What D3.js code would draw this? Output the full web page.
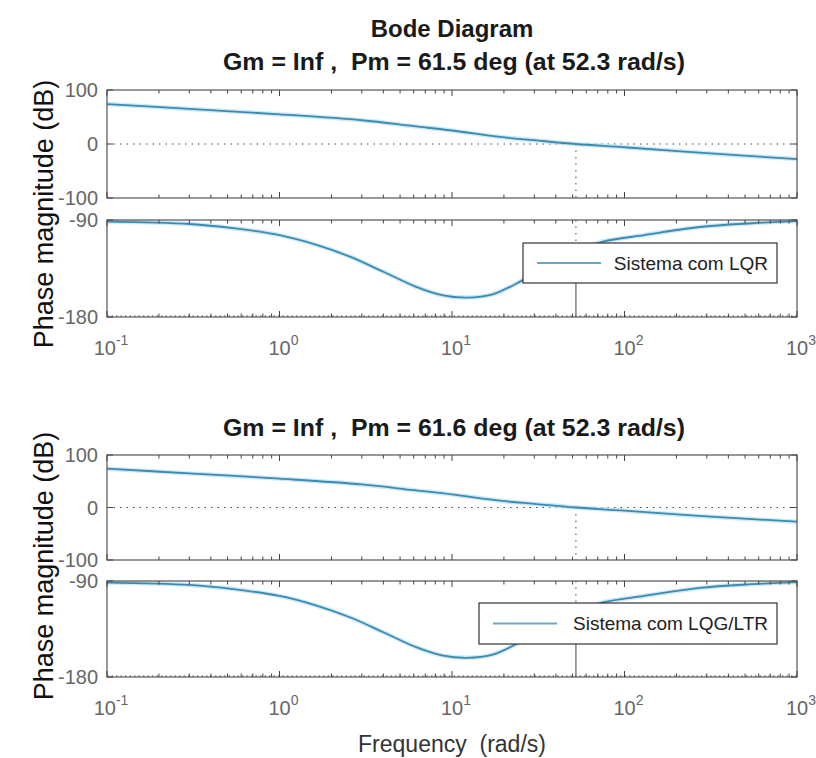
<!DOCTYPE html>
<html>
<head>
<meta charset="utf-8">
<script src="https://cdn.jsdelivr.net/npm/d3@7"></script>
<style>
    body { margin: 0; background: #fff; }
    svg { display: block; font-family: "Liberation Sans", Arial, sans-serif; }
</style>
</head>
<body>
<div id="chart"></div>
<script>
// Values
const freqMag = [0.1, 0.3, 1, 3, 6, 10, 19, 30, 52.3, 100, 300, 1000];
const magLQR = [74, 65, 55, 44, 33, 25, 13, 7, 0, -6, -17, -28];
const magLQG = [74, 65, 55, 44, 33, 25, 13, 7, 0, -6, -17, -27];

const freqPhase = [0.1, 0.3, 0.54, 1, 1.64, 2.56, 4, 6.2, 8.9, 12.2, 17.2, 25.6, 52.3, 75, 130, 272, 550, 1000];
const phaseLQR = [-91.5, -93.7, -97.6, -104, -113, -124, -138, -152, -160, -162, -159, -146, -118.5, -110, -104, -96.5, -93, -91];
const phaseLQG = [-91.5, -93.7, -97.6, -104, -113, -124, -138, -152, -160, -162, -159, -146, -118.4, -110, -104, -96.5, -93, -91];

const xTickExps = [-1, 0, 1, 2, 3];
const magTicks = [100, 0, -100];
const phaseTicks = [-90, -180];

const pmTitles = ["Gm = Inf ,  Pm = 61.5 deg (at 52.3 rad/s)", "Gm = Inf ,  Pm = 61.6 deg (at 52.3 rad/s)"];
const legendLabels = ["Sistema com LQR", "Sistema com LQG/LTR"];
const crossFreqs = [52.3, 52.3];
const phaseMargins = [61.5, 61.6];

// Page layout
const width = 816, height = 758;
const left = 107, right = 797;
const lineColor = "#3f89ae";

const blocks = [
    { mag: magLQR, phase: phaseLQR, titleY: 70, magTop: 90, magBot: 198, phTop: 220, phBot: 317,
      tickY: 355, ylabelY: 214, legend: [523, 777, 243, 283], label: legendLabels[0] },
    { mag: magLQG, phase: phaseLQG, titleY: 436, magTop: 455, magBot: 560, phTop: 581, phBot: 677,
      tickY: 715, ylabelY: 566, legend: [479, 777, 603, 644], label: legendLabels[1] }
];

const svg = d3.select("#chart")
    .append("svg")
    .attr("width", width)
    .attr("height", height);

const x = d3.scaleLog().domain([0.1, 1000]).range([left, right]);

// Minor tick positions (2..9 in every decade)
const minorTicks = [];
for (let e = -1; e < 3; e++) {
    for (let m = 2; m <= 9; m++) minorTicks.push(m * Math.pow(10, e));
}

svg.append("text")
    .attr("x", (left + right) / 2)
    .attr("y", 37)
    .attr("text-anchor", "middle")
    .style("font-size", "24px")
    .style("font-weight", "bold")
    .style("fill", "#1a1a1a")
    .text("Bode Diagram");

function drawBox(g, y, ticks, top, bot) {
    g.append("rect")
        .attr("x", left).attr("y", top)
        .attr("width", right - left).attr("height", bot - top)
        .attr("fill", "none")
        .attr("stroke", "#555")
        .attr("stroke-width", 1.2);

    // x ticks, inside, top and bottom
    xTickExps.forEach(e => {
        const px = x(Math.pow(10, e));
        g.append("line").attr("x1", px).attr("x2", px).attr("y1", top).attr("y2", top + 6);
        g.append("line").attr("x1", px).attr("x2", px).attr("y1", bot).attr("y2", bot - 6);
    });
    minorTicks.forEach(v => {
        const px = x(v);
        g.append("line").attr("x1", px).attr("x2", px).attr("y1", top).attr("y2", top + 3.5);
        g.append("line").attr("x1", px).attr("x2", px).attr("y1", bot).attr("y2", bot - 3.5);
    });
    // y ticks, inside, left and right
    ticks.forEach(t => {
        g.append("line").attr("x1", left).attr("x2", left + 6).attr("y1", y(t)).attr("y2", y(t));
        g.append("line").attr("x1", right).attr("x2", right - 6).attr("y1", y(t)).attr("y2", y(t));
        g.append("text")
            .attr("x", left - 9)
            .attr("y", y(t))
            .attr("dy", "0.35em")
            .attr("text-anchor", "end")
            .style("font-size", "20px")
            .style("fill", "#666")
            .text(t);
    });
    g.selectAll("line").attr("stroke", "#444").attr("stroke-width", 1);
}

function drawCurve(g, freqs, vals, y) {
    const line = d3.line()
        .x((d, i) => x(freqs[i]))
        .y(d => y(d))
        .curve(d3.curveCatmullRom.alpha(0.5));
    g.append("path")
        .datum(vals)
        .attr("d", line)
        .attr("fill", "none")
        .attr("stroke", "#b6e0f3")
        .attr("stroke-width", 4.5)
        .attr("stroke-opacity", 0.7);
    g.append("path")
        .datum(vals)
        .attr("d", line)
        .attr("fill", "none")
        .attr("stroke", lineColor)
        .attr("stroke-width", 1.8);
}

blocks.forEach((b, bi) => {
    const g = svg.append("g");
    const yMag = d3.scaleLinear().domain([-100, 100]).range([b.magBot, b.magTop]);
    const yPh = d3.scaleLinear().domain([-180, -90]).range([b.phBot, b.phTop]);
    const xc = x(crossFreqs[bi]);

    // Title with margins
    g.append("text")
        .attr("x", (left + right) / 2 + 2)
        .attr("y", b.titleY)
        .attr("text-anchor", "middle")
        .attr("textLength", 462)
        .attr("lengthAdjust", "spacingAndGlyphs")
        .style("white-space", "pre")
        .style("font-size", "24px")
        .style("font-weight", "bold")
        .style("fill", "#1a1a1a")
        .text(pmTitles[bi]);

    // Magnitude panel
    const gm = g.append("g");
    gm.append("line")
        .attr("x1", left).attr("x2", right)
        .attr("y1", yMag(0)).attr("y2", yMag(0))
        .attr("stroke", "#222").attr("stroke-width", 1.3)
        .attr("stroke-dasharray", "1.5,5");
    gm.append("line")
        .attr("x1", xc).attr("x2", xc)
        .attr("y1", yMag(0)).attr("y2", b.magBot)
        .attr("stroke", "#222").attr("stroke-width", 1.3)
        .attr("stroke-dasharray", "1.5,5");
    drawCurve(gm, freqMag, b.mag, yMag);
    drawBox(gm, yMag, magTicks, b.magTop, b.magBot);

    // Phase panel
    const gp = g.append("g");
    const phAtCross = -180 + phaseMargins[bi];
    gp.append("line")
        .attr("x1", left).attr("x2", right)
        .attr("y1", yPh(-180) - 1).attr("y2", yPh(-180) - 1)
        .attr("stroke", "#222").attr("stroke-width", 1.3)
        .attr("stroke-dasharray", "1.5,3");
    gp.append("line")
        .attr("x1", xc).attr("x2", xc)
        .attr("y1", b.phTop).attr("y2", yPh(phAtCross))
        .attr("stroke", "#222").attr("stroke-width", 1.3)
        .attr("stroke-dasharray", "1.5,5");
    gp.append("line")
        .attr("x1", xc).attr("x2", xc)
        .attr("y1", yPh(-180)).attr("y2", yPh(phAtCross))
        .attr("stroke", "#333").attr("stroke-width", 1.5);
    drawCurve(gp, freqPhase, b.phase, yPh);
    drawBox(gp, yPh, phaseTicks, b.phTop, b.phBot);

    // x tick labels 10^n
    xTickExps.forEach(e => {
        const t = g.append("text")
            .attr("x", x(Math.pow(10, e)) + 4)
            .attr("y", b.tickY)
            .attr("text-anchor", "middle")
            .style("font-size", "20px")
            .style("fill", "#666");
        t.append("tspan").text("10");
        t.append("tspan")
            .attr("dy", -10)
            .style("font-size", "14px")
            .text(e);
    });

    // Legend
    const [lx0, lx1, ly0, ly1] = b.legend;
    const lg = g.append("g");
    lg.append("rect")
        .attr("x", lx0).attr("y", ly0)
        .attr("width", lx1 - lx0).attr("height", ly1 - ly0)
        .attr("fill", "#fff")
        .attr("stroke", "#333")
        .attr("stroke-width", 1.2);
    lg.append("line")
        .attr("x1", lx0 + 14).attr("x2", lx0 + 78)
        .attr("y1", (ly0 + ly1) / 2).attr("y2", (ly0 + ly1) / 2)
        .attr("stroke", "#6aa8c8")
        .attr("stroke-width", 2.2);
    lg.append("text")
        .attr("x", lx1 - 9)
        .attr("y", (ly0 + ly1) / 2)
        .attr("dy", "0.35em")
        .attr("text-anchor", "end")
        .style("font-size", "19px")
        .style("fill", "#222")
        .text(b.label);

    // y label
    g.append("text")
        .attr("transform", `translate(53, ${b.ylabelY}) rotate(-90)`)
        .attr("text-anchor", "middle")
        .style("font-size", "27px")
        .style("fill", "#111")
        .text("Phase magnitude (dB)");
});

svg.append("text")
    .attr("x", (left + right) / 2)
    .attr("y", 752)
    .attr("text-anchor", "middle")
    .style("white-space", "pre")
    .style("font-size", "23px")
    .style("fill", "#333")
    .text("Frequency  (rad/s)");
</script>
</body>
</html>
